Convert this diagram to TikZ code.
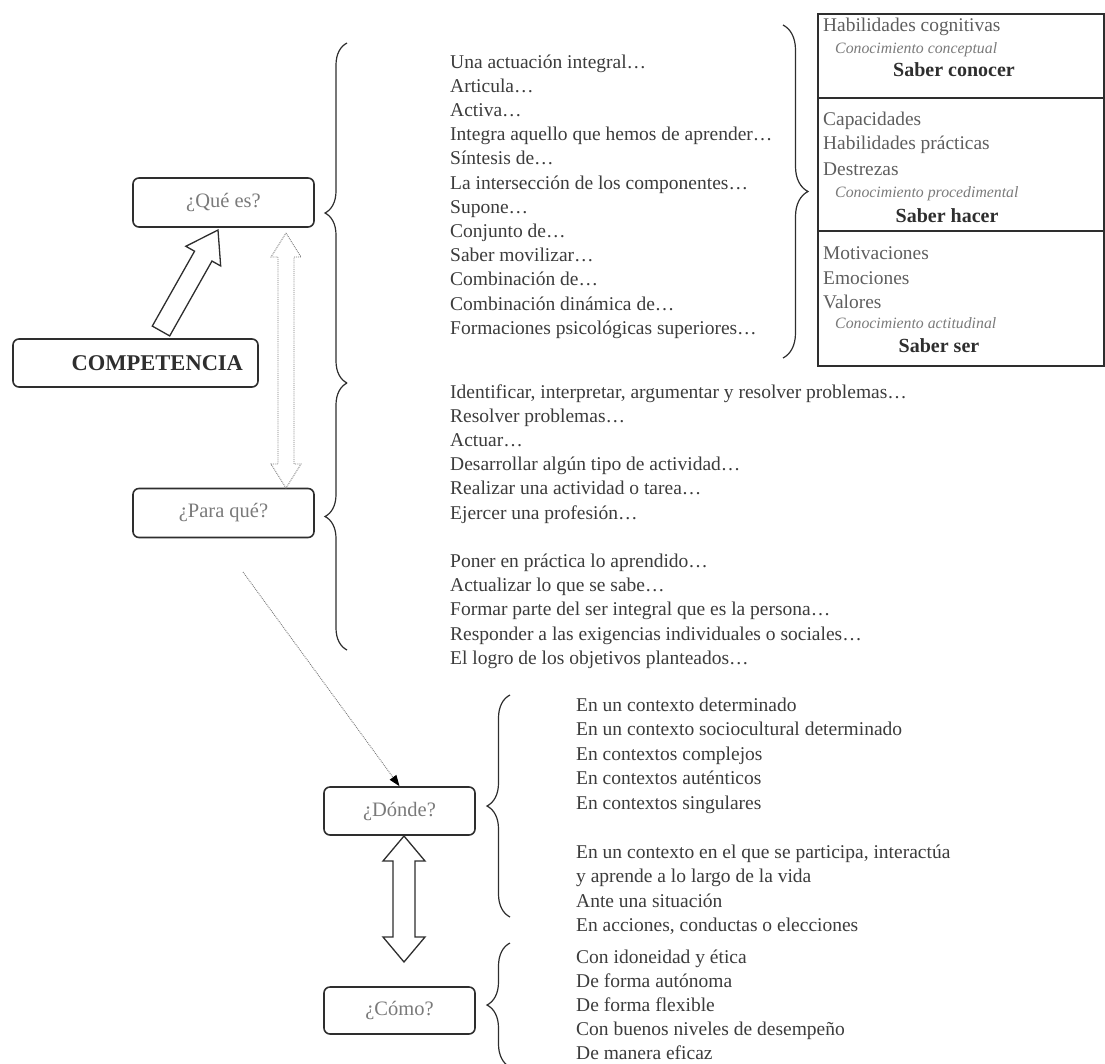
\documentclass[tikz,border=0pt]{standalone}
\usepackage{fontspec}
\setmainfont{Liberation Serif}
\usetikzlibrary{calc,decorations.pathreplacing,arrows.meta}

\definecolor{ink}{HTML}{3C3C3C}
\definecolor{soft}{HTML}{7A7A7A}
\definecolor{frame}{HTML}{2E2E2E}
\definecolor{boxtext}{HTML}{5E5E5E}

% hollow block arrow: tail, tip, shaft half width, head half width, head length, style
\newcommand\fatarrow[6]{%
  \path ($(#2)!#5!(#1)$) coordinate (fah);
  \draw[#6] ($(#1)!#3!90:(#2)$) -- ($(fah)!#3!90:(#2)$) -- ($(fah)!#4!90:(#2)$)
    -- (#2) -- ($(fah)!#4!-90:(#2)$) -- ($(fah)!#3!-90:(#2)$)
    -- ($(#1)!#3!-90:(#2)$) -- cycle;
}
% hollow double-headed block arrow
\newcommand\fatdarrow[6]{%
  \path ($(#1)!#5!(#2)$) coordinate (fha) ($(#2)!#5!(#1)$) coordinate (fhb);
  \draw[#6] (#1) -- ($(fha)!#4!90:(#2)$) -- ($(fha)!#3!90:(#2)$)
    -- ($(fhb)!#3!-90:(#1)$) -- ($(fhb)!#4!-90:(#1)$) -- (#2)
    -- ($(fhb)!#4!90:(#1)$) -- ($(fhb)!#3!90:(#1)$)
    -- ($(fha)!#3!-90:(#2)$) -- ($(fha)!#4!-90:(#2)$) -- cycle;
}

\tikzset{
  qbox/.style={draw=frame, line width=1.6pt, rounded corners=6pt,
    minimum width=181pt, minimum height=49pt, inner sep=0pt,
    text=soft, font=\fontsize{20.5}{24}\selectfont},
  item/.style={anchor=base west, inner sep=0pt, text=ink,
    font=\fontsize{19.5}{24}\selectfont},
  bitem/.style={anchor=base west, inner sep=0pt, text=boxtext,
    font=\fontsize{19.4}{22}\selectfont},
  bital/.style={anchor=base west, inner sep=0pt, text=soft,
    font=\fontsize{15.8}{20}\itshape},
  bbold/.style={anchor=base, inner sep=0pt, text=frame,
    font=\fontsize{20}{22}\bfseries},
  brc/.style={decorate, decoration={brace, amplitude=#1}, draw=frame, line width=1.2pt},
}

\begin{document}
\begin{tikzpicture}[x=1pt, y=-1pt]
\useasboundingbox (0,0) rectangle (1105,1063);
\clip (0,0) rectangle (1105,1063);

% question boxes
\node[qbox] (que) at (223.5,202.5) {¿Qué es?};
\node[qbox] (para) at (223.5,513) {¿Para qué?};
\node[qbox, minimum width=151pt, minimum height=48pt] (donde) at (399.5,811) {¿Dónde?};
\node[qbox, minimum width=151pt, minimum height=47pt] (como) at (399.5,1010.5) {¿Cómo?};
\node[qbox, minimum width=245pt, minimum height=48pt, text width=215pt, align=right,
  inner xsep=15pt, text=frame, font=\fontsize{22.5}{24}\bfseries] (comp) at (135.5,363) {COMPETENCIA};

% COMPETENCIA -> ¿Qué es?
\coordinate (ctail) at (161,331);
\coordinate (qtip) at (218,230);
\fatarrow{ctail}{qtip}{10pt}{20pt}{30pt}{draw=frame, line width=1.3pt, fill=white}

% ¿Qué es? <-> ¿Para qué?
\coordinate (qbot) at (286,233);
\coordinate (ptop) at (286,488);
\fatdarrow{qbot}{ptop}{8pt}{15pt}{24pt}{draw=soft, densely dotted, line width=0.9pt}

% ¿Para qué? -> ¿Dónde?
\coordinate (pfoot) at (243,572);
\draw[soft, densely dotted, line width=0.9pt,
  -{Triangle[length=11pt, width=8pt, color=black]}] (pfoot) -- (donde.north);

% ¿Dónde? <-> ¿Cómo?
\coordinate (dbot) at (404,836);
\coordinate (ctop) at (404,962);
\fatdarrow{dbot}{ctop}{11pt}{21pt}{25pt}{draw=frame, line width=1.3pt, fill=white}

% braces
\draw[brc=22pt] (347,383) -- (347,43);
\draw[brc=22pt] (347,650) -- (347,383);
\draw[brc=25pt] (783,25) -- (783,358);
\draw[brc=23pt] (510,917) -- (510,695);
\draw[brc=23pt] (510,1067) -- (510,943);

% what it is
\foreach \s [count=\k from 0] in {Una actuación integral…, Articula…, Activa…,
  Integra aquello que hemos de aprender…, Síntesis de…,
  La intersección de los componentes…, Supone…, Conjunto de…,
  Saber movilizar…, Combinación de…, Combinación dinámica de…,
  Formaciones psicológicas superiores…}
  \node[item, name=qe\k] at (450,68+24.2*\k) {\s};

% what it is for
\foreach \yy/\s [count=\k] in {
  398/{Identificar, interpretar, argumentar y resolver problemas…},
  422.2/{Resolver problemas…}, 446.4/{Actuar…},
  470.6/{Desarrollar algún tipo de actividad…},
  494.8/{Realizar una actividad o tarea…}, 519/{Ejercer una profesión…},
  567.4/{Poner en práctica lo aprendido…}, 591.6/{Actualizar lo que se sabe…},
  615.8/{Formar parte del ser integral que es la persona…},
  640/{Responder a las exigencias individuales o sociales…},
  664.2/{El logro de los objetivos planteados…}}
  \node[item, name=pq\k] at (450,\yy) {\s};

% where
\foreach \yy/\s [count=\k] in {
  711/{En un contexto determinado}, 735.5/{En un contexto sociocultural determinado},
  760/{En contextos complejos}, 784.5/{En contextos auténticos},
  809/{En contextos singulares},
  858/{En un contexto en el que se participa, interactúa},
  882.5/{y aprende a lo largo de la vida}, 907/{Ante una situación},
  931.5/{En acciones, conductas o elecciones}}
  \node[item, name=dn\k] at (576,\yy) {\s};

% how
\foreach \s [count=\k from 0] in {Con idoneidad y ética, De forma autónoma,
  De forma flexible, Con buenos niveles de desempeño, De manera eficaz}
  \node[item, name=cm\k] at (576,963+24.2*\k) {\s};

% components table
\node[draw=frame, line width=2pt, anchor=north west, minimum width=286pt,
  minimum height=352pt, inner sep=0pt] (tabla) at (817,13) {};
\draw[frame, line width=2pt] (tabla.west |- 0,98) -- (tabla.east |- 0,98);
\draw[frame, line width=2pt] (tabla.west |- 0,231) -- (tabla.east |- 0,231);

\node[bitem] (t1) at (823,31) {Habilidades cognitivas};
\node[bital] (t2) at (835,53) {Conocimiento conceptual};
\node[bbold] (t3) at (954,76) {Saber conocer};

\node[bitem] (t4) at (823,125) {Capacidades};
\node[bitem] (t5) at (823,149) {Habilidades prácticas};
\node[bitem] (t6) at (823,175) {Destrezas};
\node[bital] (t7) at (835,197) {Conocimiento procedimental};
\node[bbold] (t8) at (947,222) {Saber hacer};

\node[bitem] (t9) at (823,259) {Motivaciones};
\node[bitem] (t10) at (823,284) {Emociones};
\node[bitem] (t11) at (823,308) {Valores};
\node[bital] (t12) at (835,328) {Conocimiento actitudinal};
\node[bbold] (t13) at (939,352) {Saber ser};
\end{tikzpicture}
\end{document}
